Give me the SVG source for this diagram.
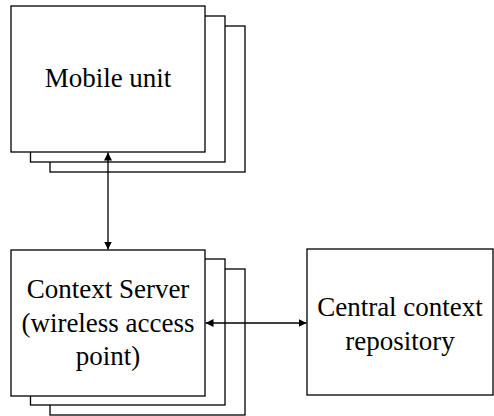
<svg xmlns="http://www.w3.org/2000/svg" width="494" height="416" viewBox="0 0 494 416">
<defs>
<marker id="ah" viewBox="0 0 8 8" refX="8" refY="4" markerWidth="8" markerHeight="8" markerUnits="userSpaceOnUse" orient="auto-start-reverse">
<path d="M0,0 L8,4 L0,8 Z" fill="#000"/>
</marker>
</defs>
<style>
.box{fill:#fff;stroke:#000;stroke-width:1.3}
.lbl{font-family:"Liberation Serif","Times New Roman",serif;font-size:27px;fill:#000;text-anchor:middle}
.conn{stroke:#000;stroke-width:1.3;fill:none;marker-start:url(#ah);marker-end:url(#ah)}
</style>
<rect width="494" height="416" fill="#fff"/>
<g id="mobile-unit">
<rect class="box" x="50" y="26" width="195" height="146"/>
<rect class="box" x="30.5" y="16" width="194.5" height="146"/>
<rect class="box" x="11" y="6" width="194" height="146"/>
<text class="lbl" x="108" y="87">Mobile unit</text>
</g>
<g id="context-server">
<rect class="box" x="50" y="269" width="195" height="146"/>
<rect class="box" x="30.5" y="259" width="194.5" height="146"/>
<rect class="box" x="11" y="250" width="194" height="146"/>
<text class="lbl" x="108" y="298">Context Server</text>
<text class="lbl" x="108" y="332">(wireless access</text>
<text class="lbl" x="108" y="365">point)</text>
</g>
<g id="central-repository">
<rect class="box" x="307" y="249" width="186" height="146"/>
<text class="lbl" x="400" y="316">Central context</text>
<text class="lbl" x="400" y="350">repository</text>
</g>
<g id="connectors">
<line class="conn" x1="108" y1="152.5" x2="108" y2="249.5"/>
<line class="conn" x1="205.5" y1="323" x2="306.5" y2="323"/>
</g>
</svg>
